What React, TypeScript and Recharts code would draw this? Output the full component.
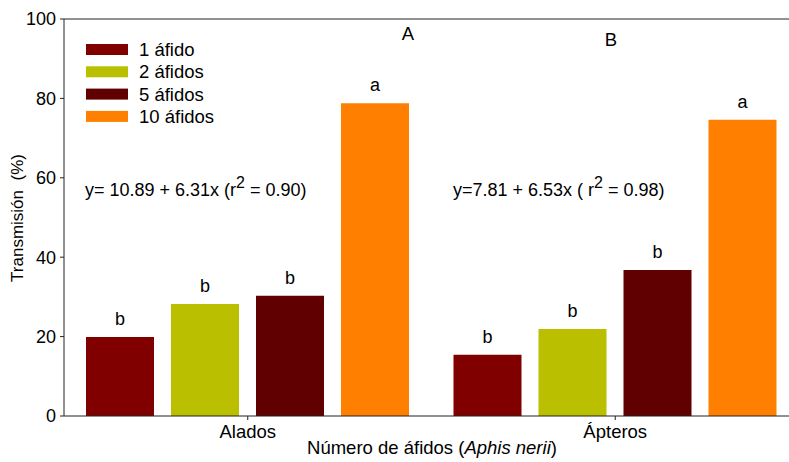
import React from "react"
import {
  BarChart,
  Bar,
  XAxis,
  YAxis,
  ReferenceLine,
  LabelList,
  Customized,
} from "recharts"

// Data
const categories = ["Alados", "Ápteros"]
const unAfido = [19.9, 15.4]
const dosAfidos = [28.2, 21.9]
const cincoAfidos = [30.3, 36.8]
const diezAfidos = [78.8, 74.6]

// significance letters above the bars
const letrasUn = ["b", "b"]
const letrasDos = ["b", "b"]
const letrasCinco = ["b", "b"]
const letrasDiez = ["a", "a"]

const yTicks = [0, 20, 40, 60, 80, 100]

const series = [
  { key: "uno", name: "1 áfido", color: "#800000", letters: letrasUn, values: unAfido },
  { key: "dos", name: "2 áfidos", color: "#BAC000", letters: letrasDos, values: dosAfidos },
  { key: "cinco", name: "5 áfidos", color: "#600000", letters: letrasCinco, values: cincoAfidos },
  { key: "diez", name: "10 áfidos", color: "#FF8000", letters: letrasDiez, values: diezAfidos },
]

const data = categories.map((cat, i) => {
  const row: any = { cat }
  series.forEach((s) => {
    row[s.key] = s.values[i]
    row[s.key + "Letra"] = s.letters[i]
  })
  return row
})

const FONT = "Arial, 'Liberation Sans', sans-serif"
const AXIS = "#222"
const txt = { fontFamily: FONT, fontSize: 18.5, fill: "#000" }
const eq = { ...txt, fontSize: 18 }

// legend, panel letters, axis titles and regression equations
function Notes() {
  return (
    <g>
      {series.map((s, i) => (
        <g key={s.key}>
          <rect x={86} y={44 + i * 22.3} width={42} height={11} fill={s.color} />
          <text x={139} y={56 + i * 22.3} style={txt}>{s.name}</text>
        </g>
      ))}
      <text x={408} y={40} textAnchor="middle" style={txt}>A</text>
      <text x={611} y={46} textAnchor="middle" style={txt}>B</text>
      <text x={85} y={196} style={eq}>
        y= 10.89 + 6.31x (r<tspan dy={-8} fontSize={16}>2</tspan>
        <tspan dy={8}> = 0.90)</tspan>
      </text>
      <text x={453} y={196} style={eq}>
        y=7.81 + 6.53x ( r<tspan dy={-8} fontSize={16}>2</tspan>
        <tspan dy={8}> = 0.98)</tspan>
      </text>
      <text x={432} y={454} textAnchor="middle" style={txt}>
        Número de áfidos (<tspan fontStyle="italic">Aphis nerii</tspan>)
      </text>
      <text
        x={0}
        y={0}
        textAnchor="middle"
        transform="translate(23 218) rotate(-90)"
        style={{ ...txt, fontSize: 17, whiteSpace: "pre" }}
      >
        Transmisión  (%)
      </text>
    </g>
  )
}

export default function App() {
  return (
    <div style={{ position: "absolute", left: 0, top: 0 }}>
      <BarChart
        width={799}
        height={462}
        data={data}
        margin={{ top: 19, right: 0, left: 0, bottom: 0 }}
        barCategoryGap={22}
        barGap={17}
      >
        <XAxis
          dataKey="cat"
          height={46}
          axisLine={{ stroke: AXIS }}
          tickLine={{ stroke: AXIS }}
          tickSize={4}
          tick={{ fontFamily: FONT, fontSize: 18.5, fill: "#000", dy: 3 }}
        />
        <XAxis xAxisId="num" type="number" domain={[0, 2]} hide />
        <YAxis
          width={64}
          domain={[0, 100]}
          ticks={yTicks}
          axisLine={{ stroke: AXIS }}
          tickLine={{ stroke: AXIS }}
          tickSize={4}
          tick={{ fontFamily: FONT, fontSize: 18, fill: "#000", dx: -2 }}
        />
        <ReferenceLine y={100} stroke={AXIS} />
        <ReferenceLine xAxisId="num" x={1} stroke={AXIS} />
        {series.map((s) => (
          <Bar key={s.key} dataKey={s.key} name={s.name} fill={s.color} isAnimationActive={false}>
            <LabelList
              dataKey={s.key + "Letra"}
              position="top"
              offset={12}
              style={{ fontFamily: FONT, fontSize: 18, fill: "#000" }}
            />
          </Bar>
        ))}
        <Customized component={Notes} />
      </BarChart>
    </div>
  )
}
